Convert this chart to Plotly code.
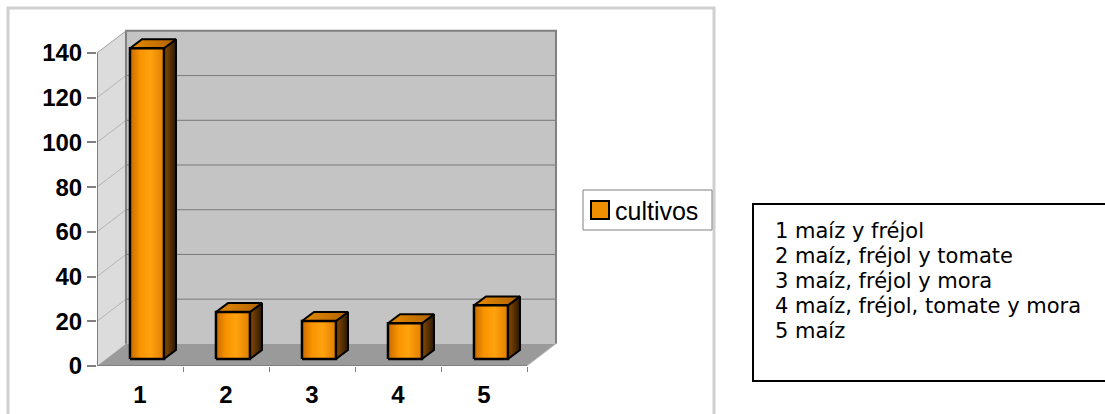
import plotly.graph_objects as go

# ---------------- data ----------------
categories = ["1", "2", "3", "4", "5"]
cultivos = [139, 21, 17, 16, 24]
y_ticks = [0, 20, 40, 60, 80, 100, 120, 140]
series_name = "cultivos"
descriptions = [
    "1 maíz y fréjol",
    "2 maíz, fréjol y tomate",
    "3 maíz, fréjol y mora",
    "4 maíz, fréjol, tomate y mora",
    "5 maíz",
]

# ---------------- geometry / style ----------------
W, H = 1105, 414
ML, MR, MT, MB = 97, 545, 25, 48
PW, PH = W - ML - MR, H - MT - MB
X0, X1 = -0.5, -0.5 + PW / 86.0
Y0, Y1 = 0.0, PH / 2.2357

WALL_DX, WALL_DY = 0.337, 9.9        # depth of the 3D box (data units)
BAR_SHIFT, BAR_W = 0.081, 0.395      # bar front face position/width
BAR_BASE = 3.13                      # bar front sits a bit behind the front edge
BAR_DX, BAR_DY = 0.14, 4.0           # bar depth

ymax = y_ticks[-1]
n = len(categories)
xr_front = X0 + n  # 4.5


def px(x):
    return (x - ML) / PW


def py(y):
    return (H - MB - y) / PH


fig = go.Figure()

shapes = []
# outer chart frame
shapes.append(dict(type="rect", xref="paper", yref="paper", x0=px(8), x1=px(714), y0=py(8), y1=py(430),
                   line=dict(color="#d0d0d0", width=3), fillcolor="white", layer="below"))

# side wall (left)
bx = X0 + WALL_DX
shapes.append(dict(type="path", xref="x", yref="y",
                   path=f"M{X0},0 L{bx},{WALL_DY} L{bx},{ymax + WALL_DY} L{X0},{ymax} Z",
                   fillcolor="#dcdcdc", line=dict(width=0), layer="below"))
# back wall
bxr = xr_front + WALL_DX
shapes.append(dict(type="path", xref="x", yref="y",
                   path=f"M{bx},{WALL_DY} L{bxr},{WALL_DY} L{bxr},{ymax + WALL_DY} L{bx},{ymax + WALL_DY} Z",
                   fillcolor="#c4c4c4", line=dict(width=0), layer="below"))
# floor
shapes.append(dict(type="path", xref="x", yref="y",
                   path=f"M{X0},0 L{xr_front},0 L{bxr},{WALL_DY} L{bx},{WALL_DY} Z",
                   fillcolor="#9a9a9a", line=dict(width=0), layer="below"))
# gridlines on back wall + diagonal lines on side wall
for v in y_ticks[1:-1]:
    shapes.append(dict(type="line", xref="x", yref="y", x0=bx, x1=bxr, y0=v + WALL_DY, y1=v + WALL_DY,
                       line=dict(color="#7a7a7a", width=1), layer="below"))
    shapes.append(dict(type="line", xref="x", yref="y", x0=X0, x1=bx, y0=v, y1=v + WALL_DY,
                       line=dict(color="#b4b4b4", width=1), layer="below"))
# wall borders
shapes.append(dict(type="path", xref="x", yref="y",
                   path=f"M{bx},{WALL_DY} L{bx},{ymax + WALL_DY} L{bxr},{ymax + WALL_DY} L{bxr},{WALL_DY}",
                   line=dict(color="#808080", width=2), layer="below"))
shapes.append(dict(type="line", xref="x", yref="y", x0=X0, x1=bx, y0=ymax, y1=ymax + WALL_DY,
                   line=dict(color="#a0a0a0", width=1), layer="below"))
# front axis lines
shapes.append(dict(type="line", xref="x", yref="y", x0=X0, x1=X0, y0=0, y1=ymax,
                   line=dict(color="#808080", width=2), layer="below"))
shapes.append(dict(type="line", xref="x", yref="y", x0=X0, x1=xr_front, y0=0, y1=0,
                   line=dict(color="#808080", width=2), layer="below"))
shapes.append(dict(type="line", xref="x", yref="y", x0=xr_front, x1=bxr, y0=0, y1=WALL_DY,
                   line=dict(color="#c8c8c8", width=1), layer="below"))

# ---------------- 3D bars ----------------
front_scale = [[0, "#c86a00"], [0.3, "#f89400"], [0.6, "#ffa20e"], [1, "#e07e00"]]
side_scale = [[0, "#8a4c00"], [0.5, "#5a3200"], [1, "#2a1800"]]
top_scale = [[0, "#e68a00"], [1, "#b06200"]]

for i, v in enumerate(cultivos):
    xl = i + BAR_SHIFT - BAR_W / 2
    xr = i + BAR_SHIFT + BAR_W / 2
    b = BAR_BASE
    t = BAR_BASE + v
    # side face
    fig.add_trace(go.Scatter(
        x=[xr, xr + BAR_DX, xr + BAR_DX, xr, xr], y=[b, b + BAR_DY, t + BAR_DY, t, b],
        mode="lines", fill="toself", line=dict(color="black", width=2),
        fillgradient=dict(type="horizontal", colorscale=side_scale),
        showlegend=False, hoverinfo="skip", name=series_name))
    # top face
    fig.add_trace(go.Scatter(
        x=[xl, xl + BAR_DX, xr + BAR_DX, xr, xl], y=[t, t + BAR_DY, t + BAR_DY, t, t],
        mode="lines", fill="toself", line=dict(color="black", width=2),
        fillgradient=dict(type="horizontal", colorscale=top_scale),
        showlegend=False, hoverinfo="skip", name=series_name))
    # front face
    fig.add_trace(go.Scatter(
        x=[xl, xr, xr, xl, xl], y=[b, b, t, t, b],
        mode="lines", fill="toself", line=dict(color="black", width=2.5),
        fillgradient=dict(type="horizontal", colorscale=front_scale),
        showlegend=False, name=series_name, text=categories[i],
        hovertemplate="%{text}: " + str(v) + "<extra></extra>"))

# ---------------- legend (drawn) ----------------
shapes.append(dict(type="rect", xref="paper", yref="paper", x0=px(583), x1=px(712), y0=py(190), y1=py(230),
                   line=dict(color="#808080", width=1), fillcolor="white"))
shapes.append(dict(type="rect", xref="paper", yref="paper", x0=px(591), x1=px(609), y0=py(201), y1=py(219),
                   line=dict(color="black", width=2), fillcolor="#f09000"))

annotations = [dict(xref="paper", yref="paper", x=px(613), y=py(211), text=series_name, showarrow=False,
                    xanchor="left", yanchor="middle",
                    font=dict(family="Liberation Sans, Arial", size=25, color="black"))]

# ---------------- description box ----------------
shapes.append(dict(type="rect", xref="paper", yref="paper", x0=px(753), x1=px(1110), y0=py(204), y1=py(381),
                   line=dict(color="black", width=2), fillcolor="white"))
for k, line in enumerate(descriptions):
    annotations.append(dict(xref="paper", yref="paper", x=px(773), y=py(231 + 25 * k), text=line,
                            showarrow=False, xanchor="left", yanchor="middle",
                            font=dict(family="DejaVu Sans, Verdana", size=21, color="black")))

fig.update_layout(
    width=W, height=H,
    margin=dict(l=ML, r=MR, t=MT, b=MB, pad=0),
    paper_bgcolor="white", plot_bgcolor="rgba(0,0,0,0)",
    showlegend=False,
    shapes=shapes, annotations=annotations,
    xaxis=dict(range=[X0, X1], tickvals=list(range(n)), ticktext=categories, ticks="",
               showgrid=False, zeroline=False, showline=False, fixedrange=True, automargin=False,
               tickfont=dict(family="Liberation Sans, Arial", size=24, color="black", weight="bold"),
               ticklabelstandoff=12,
               minor=dict(tickvals=[k + 0.5 for k in range(n)], ticks="outside", ticklen=5,
                          tickcolor="#808080", tickwidth=1, showgrid=False)),
    yaxis=dict(range=[Y0, Y1], tickvals=y_ticks, ticks="outside", ticklen=9, tickcolor="#808080",
               tickwidth=2, showgrid=False, zeroline=False, showline=False, fixedrange=True,
               automargin=False,
               tickfont=dict(family="Liberation Sans, Arial", size=24, color="black", weight="bold")),
)

fig.write_html("out.html")
